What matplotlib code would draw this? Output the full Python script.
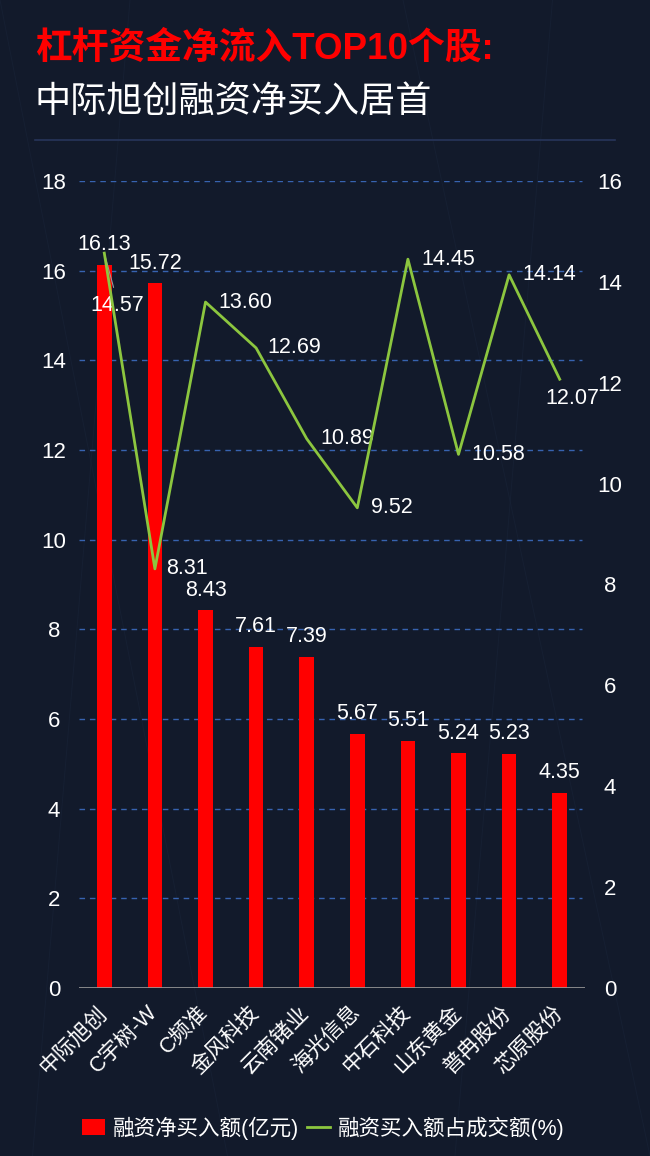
import matplotlib
matplotlib.use("Agg")
import matplotlib.pyplot as plt
from matplotlib.patches import Patch
from matplotlib.lines import Line2D
from matplotlib.transforms import ScaledTranslation
import numpy as np

plt.rcParams['font.family'] = ['Liberation Sans', 'Noto Sans CJK SC']

TITLE_1 = "杠杆资金净流入TOP10个股:"
TITLE_2 = "中际旭创融资净买入居首"
stocks = ["中际旭创", "C宇树-W", "C频准", "金风科技", "云南锗业",
          "海光信息", "中石科技", "山东黄金", "普冉股份", "芯原股份"]
net_buy = [16.13, 15.72, 8.43, 7.61, 7.39, 5.67, 5.51, 5.24, 5.23, 4.35]
buy_ratio = [14.57, 8.31, 13.60, 12.69, 10.89, 9.52, 14.45, 10.58, 14.14, 12.07]
left_ticks = np.arange(0, 19, 2)
right_ticks = np.arange(0, 17, 2)
legend_labels = ["融资净买入额(亿元)", "融资买入额占成交额(%)"]

# label offsets for the line values (pixels)
line_label_offsets = [(13, -52), (32, 0), (40, 0), (38, 0), (41, 0),
                      (35, 0), (40, 0), (40, 0), (40, 0), (13, -19)]

BG = "#121a2b"
RED = "#ff0000"
GREEN = "#8cc63f"
GRID = "#3763b0"

fig = plt.figure(figsize=(6.5, 11.56), dpi=100)
fig.patch.set_facecolor(BG)

# faint background texture
for x0, x1 in [(0.0, 0.35), (0.62, 1.0), (0.2, 0.05), (0.85, 0.7)]:
    fig.add_artist(Line2D([x0, x1], [1.0, 0.0], color="#1a253a", lw=0.7,
                          alpha=0.5, transform=fig.transFigure, zorder=0))

# titles and separator
fig.text(35 / 650, 1 - 49 / 1156, TITLE_1, color=RED, fontsize=26.5,
         fontweight="black", ha="left", va="center",
         family=['Liberation Sans', 'Noto Sans CJK SC'])
fig.text(35 / 650, 1 - 102 / 1156, TITLE_2, color="white", fontsize=26,
         ha="left", va="center", family=['Noto Sans CJK SC'])
fig.add_artist(Line2D([35 / 650, 615 / 650], [1 - 140 / 1156] * 2,
                      color="#27355a", lw=1.2, transform=fig.transFigure))

ax = fig.add_axes([79 / 650, 168 / 1156, 506 / 650, 807 / 1156])
ax.set_facecolor("none")
ax2 = ax.twinx()

x = np.arange(len(stocks))
ax.bar(x, net_buy, width=0.29, color=RED, zorder=2)
ax.set_xlim(-0.5, len(stocks) - 0.5)
ax.set_ylim(0, 18)
ax.set_yticks(left_ticks)
for t in left_ticks[1:]:
    ax.axhline(t, xmax=0.994, color=GRID, lw=1, ls=(0, (4, 3.5)), zorder=1)
ax.axhline(0, color="#9a9a9a", lw=1.2, zorder=3)

for i, v in enumerate(net_buy):
    ax.annotate(f"{v:.2f}", (i, v), xytext=(0, 20), textcoords="offset pixels",
                ha="center", va="center", color="white", fontsize=15.5)

ax2.plot(x, buy_ratio, color=GREEN, lw=2, zorder=4)
ax2.set_ylim(0, 16)
ax2.set_yticks(right_ticks)
for i, v in enumerate(buy_ratio):
    dx, dy = line_label_offsets[i]
    ax2.annotate(f"{v:.2f}", (i, v), xytext=(dx, dy), textcoords="offset pixels",
                 ha="center", va="center", color="white", fontsize=15.5)
# leader line for the first value label
ax2.annotate("", (0, buy_ratio[0]), xytext=(10, -37), textcoords="offset pixels",
             arrowprops=dict(arrowstyle="-", color="#9a9a9a", lw=0.8))

for a in (ax, ax2):
    for s in a.spines.values():
        s.set_visible(False)
    a.tick_params(axis="y", length=0, colors="white", labelsize=16, pad=18)
    for lab in a.get_yticklabels():
        lab.set_horizontalalignment("center")
ax.tick_params(axis="x", length=0, pad=10)
ax.set_xticks(x)
ax.set_xticklabels(stocks, rotation=45, ha="right", va="top",
                   rotation_mode="anchor", color="white", fontsize=15.5)
shift = ScaledTranslation(-8 / 100, 0, fig.dpi_scale_trans)
for lab in ax.get_xticklabels():
    lab.set_transform(lab.get_transform() + shift)

handles = [Patch(facecolor=RED, edgecolor="none"),
           Line2D([0], [0], color=GREEN, lw=2)]
leg = fig.legend(handles, legend_labels, loc="center",
                 bbox_to_anchor=(323 / 650, 1 - 1128 / 1156), ncol=2,
                 frameon=False, fontsize=15.5, handlelength=1.1,
                 handleheight=0.75, handletextpad=0.35, columnspacing=0.35,
                 borderaxespad=0)
for t in leg.get_texts():
    t.set_color("white")

fig.savefig("out.png", dpi=100, facecolor=BG)
